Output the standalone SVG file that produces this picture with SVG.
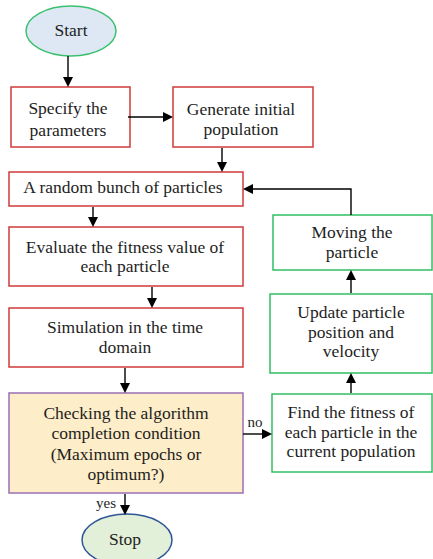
<svg xmlns="http://www.w3.org/2000/svg" width="433" height="559" viewBox="0 0 433 559">
<rect width="433" height="559" fill="#fff"/>
<g id="start"><ellipse cx="71" cy="31" rx="45" ry="25" fill="#dde8f4" stroke="#3cc070" stroke-width="1.5"/><text font-family="Liberation Serif" font-size="17.5" text-anchor="middle" fill="#1e1e1e" x="71" y="36">Start</text></g>
<g id="specify"><rect x="11" y="87" width="119" height="60" fill="#fff" stroke="#d03a3a" stroke-width="1.5"/><text font-family="Liberation Serif" font-size="17.5" text-anchor="middle" fill="#1e1e1e" x="68" y="114">Specify the</text><text font-family="Liberation Serif" font-size="17.5" text-anchor="middle" fill="#1e1e1e" x="68" y="136">parameters</text></g>
<g id="generate"><rect x="173" y="87" width="140" height="60" fill="#fff" stroke="#d03a3a" stroke-width="1.5"/><text font-family="Liberation Serif" font-size="17.5" text-anchor="middle" fill="#1e1e1e" x="241" y="115">Generate initial</text><text font-family="Liberation Serif" font-size="17.5" text-anchor="middle" fill="#1e1e1e" x="241" y="135">population</text></g>
<g id="random"><rect x="9" y="172" width="234" height="34" fill="#fff" stroke="#d03a3a" stroke-width="1.5"/><text font-family="Liberation Serif" font-size="17.5" text-anchor="middle" fill="#1e1e1e" x="123" y="193">A random bunch of particles</text></g>
<g id="evaluate"><rect x="9" y="227" width="234" height="59" fill="#fff" stroke="#d03a3a" stroke-width="1.5"/><text font-family="Liberation Serif" font-size="17.5" text-anchor="middle" fill="#1e1e1e" x="125" y="253">Evaluate the fitness value of</text><text font-family="Liberation Serif" font-size="17.5" text-anchor="middle" fill="#1e1e1e" x="125" y="272">each particle</text></g>
<g id="simulation"><rect x="9" y="308" width="234" height="59" fill="#fff" stroke="#d03a3a" stroke-width="1.5"/><text font-family="Liberation Serif" font-size="17.5" text-anchor="middle" fill="#1e1e1e" x="125" y="333">Simulation in the time</text><text font-family="Liberation Serif" font-size="17.5" text-anchor="middle" fill="#1e1e1e" x="125" y="353">domain</text></g>
<g id="checking"><rect x="9" y="393" width="234" height="100" fill="#fdedc8" stroke="#9b6fb5" stroke-width="1.5"/><text font-family="Liberation Serif" font-size="17.5" text-anchor="middle" fill="#1e1e1e" x="126" y="419">Checking the algorithm</text><text font-family="Liberation Serif" font-size="17.5" text-anchor="middle" fill="#1e1e1e" x="126" y="439">completion condition</text><text font-family="Liberation Serif" font-size="17.5" text-anchor="middle" fill="#1e1e1e" x="126" y="460">(Maximum epochs or</text><text font-family="Liberation Serif" font-size="17.5" text-anchor="middle" fill="#1e1e1e" x="126" y="480">optimum?)</text></g>
<g id="stop"><ellipse cx="127" cy="540" rx="45" ry="26" fill="#e2efd9" stroke="#2f5597" stroke-width="1.5"/><text font-family="Liberation Serif" font-size="17.5" text-anchor="middle" fill="#1e1e1e" x="125" y="545">Stop</text></g>
<g id="moving"><rect x="273" y="215" width="159" height="55" fill="#fff" stroke="#2fbf62" stroke-width="1.5"/><text font-family="Liberation Serif" font-size="17.5" text-anchor="middle" fill="#1e1e1e" x="352" y="238">Moving the</text><text font-family="Liberation Serif" font-size="17.5" text-anchor="middle" fill="#1e1e1e" x="352" y="258">particle</text></g>
<g id="update"><rect x="270" y="294" width="162" height="79" fill="#fff" stroke="#2fbf62" stroke-width="1.5"/><text font-family="Liberation Serif" font-size="17.5" text-anchor="middle" fill="#1e1e1e" x="351" y="318">Update particle</text><text font-family="Liberation Serif" font-size="17.5" text-anchor="middle" fill="#1e1e1e" x="351" y="338">position and</text><text font-family="Liberation Serif" font-size="17.5" text-anchor="middle" fill="#1e1e1e" x="351" y="357">velocity</text></g>
<g id="find"><rect x="272" y="394" width="160" height="78" fill="#fff" stroke="#2fbf62" stroke-width="1.5"/><text font-family="Liberation Serif" font-size="17.5" text-anchor="middle" fill="#1e1e1e" x="351" y="418">Find the fitness of</text><text font-family="Liberation Serif" font-size="17.5" text-anchor="middle" fill="#1e1e1e" x="351" y="438">each particle in the</text><text font-family="Liberation Serif" font-size="17.5" text-anchor="middle" fill="#1e1e1e" x="351" y="457">current population</text></g>
<g id="connectors" stroke="#000" stroke-width="1.4" fill="none">
<line x1="68" y1="56" x2="68" y2="78"/>
<line x1="128" y1="117" x2="164" y2="117"/>
<line x1="222" y1="148" x2="222" y2="163"/>
<line x1="93" y1="207" x2="93" y2="218"/>
<line x1="152" y1="287" x2="152" y2="299"/>
<line x1="125" y1="368" x2="125" y2="384"/>
<line x1="125" y1="494" x2="125" y2="506"/>
<line x1="243" y1="434" x2="263" y2="434"/>
<line x1="351" y1="393" x2="351" y2="382"/>
<line x1="351" y1="293" x2="351" y2="279"/>
<polyline points="351,215 351,189 252,189"/>
</g>
<g id="arrowheads" fill="#000">
<polygon points="63,77 73,77 68,87"/>
<polygon points="163,112 163,122 173,117"/>
<polygon points="217,162 227,162 222,172"/>
<polygon points="88,217 98,217 93,227"/>
<polygon points="147,298 157,298 152,308"/>
<polygon points="120,383 130,383 125,393"/>
<polygon points="120,505 130,505 125,515"/>
<polygon points="262,429 262,439 272,434"/>
<polygon points="346,383 356,383 351,373"/>
<polygon points="346,280 356,280 351,270"/>
<polygon points="253,184 253,194 243,189"/>
</g>
<g id="labels">
<text font-family="Liberation Serif" font-size="15" text-anchor="middle" fill="#1e1e1e" x="255" y="427">no</text>
<text font-family="Liberation Serif" font-size="15" text-anchor="middle" fill="#1e1e1e" x="106" y="508">yes</text>
</g>
</svg>
